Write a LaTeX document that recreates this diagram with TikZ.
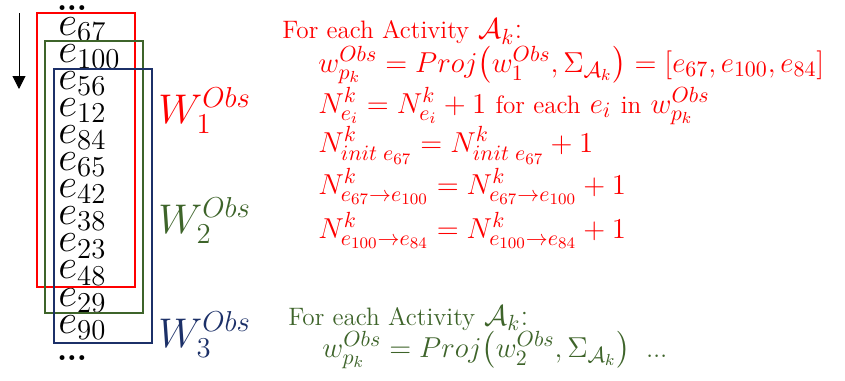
\documentclass[tikz,border=0pt]{standalone}
\usepackage{amsmath,amssymb}
\usepackage{xcolor}
\usetikzlibrary{arrows.meta, positioning}
\definecolor{winred}{RGB}{255,0,0}
\definecolor{wingreen}{RGB}{62,100,42}
\definecolor{winblue}{RGB}{28,48,104}
\newcommand{\tightdots}{.\kern-0.4pt.\kern-0.4pt.}
\newcommand{\rtxt}[1]{{\fontsize{12.6}{16}\selectfont #1}}
\begin{document}
\begin{tikzpicture}[
  x=0.5pt, y=-0.5pt,
  evt/.style={anchor=base west, inner sep=0pt, font=\fontsize{20}{20}\selectfont},
  dots/.style={inner sep=0pt, font=\fontsize{17}{17}\selectfont\bfseries},
  win/.style={line width=1pt},
  wlbl/.style={anchor=base west, inner sep=0pt, font=\fontsize{19.5}{19.5}\selectfont},
  eqn/.style={anchor=base west, inner sep=0pt, font=\fontsize{15.4}{17}\selectfont},
  arr/.style={-{Triangle[length=6.5pt, width=6.5pt]}, line width=0.5pt}
]
\useasboundingbox (0,0) rectangle (845,380);
%% event stream (left column x=58)
\node[dots] (dtop) at (72,8) {\tightdots};
\foreach \ev [count=\i from 0] in {67,100,56,12,84,65,42,38,23,48,29,90}
  \node[evt] (e\ev) at (58, 35+27.1*\i) {$e_{\ev}$};
\node[dots] (dbot) at (72,358) {\tightdots};
%% time arrow
\coordinate (t_top) at (19,13);
\coordinate (t_bot) at (19,89);
\draw[arr] (t_top) -- (t_bot);
%% observation windows
\draw[win, winred]   (37,13) rectangle (135,287);
\draw[win, wingreen] (45,41) rectangle (143,313);
\draw[win, winblue]  (54,69) rectangle (152,343);
\node[wlbl, text=winred]   (w1) at (158,123) {$W_1^{Obs}$};
\node[wlbl, text=wingreen] (w2) at (158,233) {$W_2^{Obs}$};
\node[wlbl, text=winblue]  (w3) at (158,347) {$W_3^{Obs}$};
%% update rules for window 1
\begin{scope}[every node/.style={eqn, text=winred}]
  \node (r_head) at (282,39) {\rtxt{For each Activity} $\mathcal{A}_k$:};
  \node (r_proj) at (318,72)
    {$w_{p_k}^{Obs} = Proj\bigl(w_1^{Obs},\Sigma_{\mathcal{A}_k}\bigr) = [e_{67}, e_{100}, e_{84}]$};
  \node (r_cnt)  at (318,113)
    {$N_{e_i}^k = N_{e_i}^k + 1$ \rtxt{for each} $e_i$ \rtxt{in} $w_{p_k}^{Obs}$};
  \node (r_init) at (318,152)
    {$N_{init\; e_{67}}^k = N_{init\; e_{67}}^k + 1$};
  \node (r_tr1)  at (318,194)
    {$N_{e_{67}\rightarrow e_{100}}^k = N_{e_{67}\rightarrow e_{100}}^k + 1$};
  \node (r_tr2)  at (318,238)
    {$N_{e_{100}\rightarrow e_{84}}^k = N_{e_{100}\rightarrow e_{84}}^k + 1$};
\end{scope}
%% update rules for window 2
\begin{scope}[every node/.style={eqn, text=wingreen}]
  \node (g_head) at (288,325) {\rtxt{For each Activity} $\mathcal{A}_k$:};
  \node (g_proj) at (322,357)
    {$w_{p_k}^{Obs} = Proj\bigl(w_2^{Obs},\Sigma_{\mathcal{A}_k}\bigr)$\enspace\tightdots};
\end{scope}
\end{tikzpicture}
\end{document}
